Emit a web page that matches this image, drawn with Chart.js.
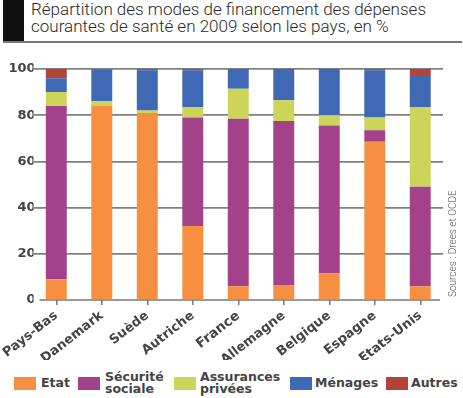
<!DOCTYPE html>
<html>
<head>
<meta charset="utf-8">
<script src="https://cdn.jsdelivr.net/npm/chart.js@4"></script>
<style>
  body { margin: 0; width: 463px; height: 398px; background: #fff; position: relative; overflow: hidden; font-family: Roboto, sans-serif; color: #444; }
  #bar { position: absolute; left: 3px; top: 0; width: 21px; height: 42px; background: #111; }
  #rule { position: absolute; left: 3px; top: 41px; width: 459px; height: 2px; background: #777; }
  #title { position: absolute; left: 31px; top: 1px; font-size: 17px; font-weight: 300; line-height: 17px; color: #2a2a2a; white-space: nowrap; }
  #src { position: absolute; left: 447px; top: 297px; transform-origin: 0 0; transform: rotate(-90deg); font-size: 10px; font-weight: 300; color: #555; white-space: nowrap; }
  #wrap { position: absolute; left: 0; top: 48px; width: 463px; height: 312px; }
  .sw { position: absolute; top: 377px; width: 22px; height: 13px; }
  .lb { position: absolute; font-family: 'DejaVu Sans', sans-serif; font-size: 12.5px; font-weight: 700; line-height: 12px; color: #444; white-space: nowrap; }
</style>
</head>
<body>
<div id="bar"></div>
<div id="title">Répartition des modes de financement des dépenses<br>courantes de santé en 2009 selon les pays, en %</div>
<div id="rule"></div>
<div id="wrap"><canvas id="chart"></canvas></div>
<div id="src">Sources : Drees et OCDE</div>
<div id="legend"></div>
<script>
// Pays et parts de financement (en %)
const pays = ['Pays-Bas', 'Danemark', 'Suède', 'Autriche', 'France', 'Allemagne', 'Belgique', 'Espagne', 'Etats-Unis'];
const etat = [9, 84, 81, 32, 6, 6.5, 11.5, 68.5, 6];
const securiteSociale = [75, 0, 0, 47, 72.5, 71, 64, 5, 43];
const assurancesPrivees = [6, 2, 1, 4.5, 13, 9, 4.5, 5.5, 34.5];
const menages = [6, 13.7, 17.5, 16, 8.5, 13.5, 20, 20.5, 13.5];
const autres = [4, 0.3, 0.5, 0.5, 0, 0, 0, 0.5, 3];
const yTicks = [0, 20, 40, 60, 80, 100];

const series = [
  { label: 'Etat', data: etat, color: '#F78F40' },
  { label: 'Sécurité sociale', data: securiteSociale, color: '#A3418A' },
  { label: 'Assurances privées', data: assurancesPrivees, color: '#CDD45A' },
  { label: 'Ménages', data: menages, color: '#3F69B4' },
  { label: 'Autres', data: autres, color: '#B44237' }
];

// Legend (HTML, two-line labels)
const legendPos = [
  { box: 14, text: 41, lines: ['Etat'] },
  { box: 78, text: 105, lines: ['Sécurité', 'sociale'] },
  { box: 174, text: 200, lines: ['Assurances', 'privées'] },
  { box: 290, text: 315, lines: ['Ménages'] },
  { box: 386, text: 411, lines: ['Autres'] }
];
const legend = document.getElementById('legend');
series.forEach((s, i) => {
  const p = legendPos[i];
  const sw = document.createElement('div');
  sw.className = 'sw';
  sw.style.left = p.box + 'px';
  sw.style.background = s.color;
  legend.appendChild(sw);
  const lb = document.createElement('div');
  lb.className = 'lb';
  lb.style.left = p.text + 'px';
  lb.style.top = (p.lines.length > 1 ? 371 : 377) + 'px';
  lb.innerHTML = p.lines.join('<br>');
  legend.appendChild(lb);
});

// x axis line, a bit shorter than the chart area
const axisLine = {
  id: 'axisLine',
  afterDraw(chart) {
    const { ctx, chartArea } = chart;
    ctx.save();
    ctx.strokeStyle = '#777';
    ctx.lineWidth = 1.5;
    ctx.beginPath();
    ctx.moveTo(chartArea.left + 6, chartArea.bottom);
    ctx.lineTo(chartArea.right - 3, chartArea.bottom);
    ctx.stroke();
    ctx.restore();
  }
};

new Chart(document.getElementById('chart'), {
  type: 'bar',
  data: {
    labels: pays,
    datasets: series.map(s => ({
      label: s.label,
      data: s.data,
      backgroundColor: s.color,
      borderWidth: 0,
      barPercentage: 0.46,
      categoryPercentage: 1
    }))
  },
  options: {
    responsive: true,
    maintainAspectRatio: false,
    animation: false,
    layout: { padding: { top: 21, right: 20, left: 0, bottom: 0 } },
    plugins: { legend: { display: false }, tooltip: { enabled: false } },
    scales: {
      x: {
        stacked: true,
        afterFit: s => { s.height = 60; },
        border: { display: false },
        grid: { offset: false, drawOnChartArea: false, drawTicks: true, tickLength: 5, color: '#777', lineWidth: 1.5 },
        ticks: {
          minRotation: 38,
          maxRotation: 38,
          padding: 3,
          color: '#444',
          font: ctx => ({ family: 'DejaVu Sans', size: ctx.index === 4 ? 13.5 : 13, weight: 700 })
        }
      },
      y: {
        stacked: true,
        min: 0,
        max: 100,
        afterFit: s => { s.width = 29; },
        afterBuildTicks: s => { s.ticks = yTicks.map(v => ({ value: v })); },
        border: { display: false },
        grid: {
          drawTicks: false,
          color: ctx => ctx.tick.value === 0 ? 'rgba(0,0,0,0)' : '#808080',
          lineWidth: 1.8,
          borderDash: [6, 6],
          borderDashOffset: 6
        },
        ticks: { padding: -2, color: '#444', font: { family: 'DejaVu Sans', size: 13, weight: 700 } }
      }
    }
  },
  plugins: [axisLine]
});
</script>
</body>
</html>
